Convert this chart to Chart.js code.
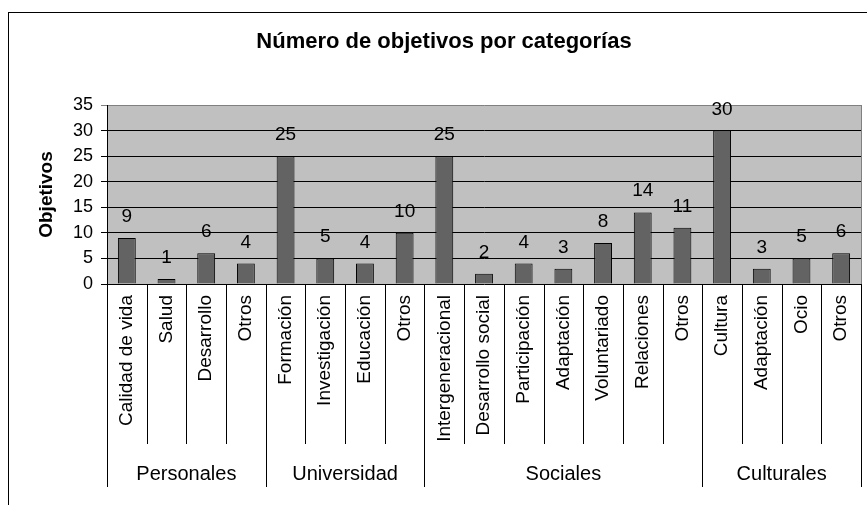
<!DOCTYPE html>
<html lang="es">
<head>
  <meta charset="UTF-8" />
  <title>Número de objetivos por categorías</title>
  <script src="https://cdn.jsdelivr.net/npm/chart.js"></script>
  <style>
    body {
      margin: 0;
      background: #ffffff;
    }

    .chart-box {
      position: relative;
      width: 867px;
      height: 505px;
    }
  </style>
</head>
<body>
  <div class="chart-box">
    <canvas id="objChart"></canvas>
  </div>

  <script>
    // data
    const categories = ['Calidad de vida', 'Salud', 'Desarrollo', 'Otros',
      'Formación', 'Investigación', 'Educación', 'Otros',
      'Intergeneracional', 'Desarrollo social', 'Participación', 'Adaptación', 'Voluntariado', 'Relaciones', 'Otros',
      'Cultura', 'Adaptación', 'Ocio', 'Otros'];
    const groups = ['Personales', 'Universidad', 'Sociales', 'Culturales'];
    const groupSizes = [4, 4, 7, 4];
    const objetivos = [9, 1, 6, 4, 25, 5, 4, 10, 25, 2, 4, 3, 8, 14, 11, 30, 3, 5, 6];
    const yMin = 0;
    const yMax = 35;
    const yStep = 5;

    const chartTitle = 'Número de objetivos por categorías';
    const yTitle = 'Objetivos';
    const fontFamily = "'Liberation Sans', Arial, sans-serif";

    const decor = {
      id: 'decor',
      beforeDraw(chart) {
        const { ctx, chartArea: a } = chart;
        ctx.save();
        ctx.fillStyle = '#ffffff';
        ctx.fillRect(0, 0, chart.width, chart.height);
        ctx.fillStyle = '#c0c0c0';
        ctx.fillRect(a.left, a.top, a.right - a.left, a.bottom - a.top);
        ctx.restore();
      },
      afterDraw(chart) {
        const { ctx, chartArea: a } = chart;
        const x = chart.scales.x;
        const y = chart.scales.y;
        ctx.save();

        // outer frame
        ctx.strokeStyle = '#000';
        ctx.lineWidth = 1;
        ctx.strokeRect(8.5, 12.5, 1000, 1000);

        // right border of plot
        ctx.strokeStyle = '#808080';
        ctx.beginPath();
        ctx.moveTo(Math.round(a.right) + 0.5, a.top);
        ctx.lineTo(Math.round(a.right) + 0.5, a.bottom);
        ctx.stroke();

        // title
        ctx.fillStyle = '#000';
        ctx.font = 'bold 22px ' + fontFamily;
        ctx.textAlign = 'center';
        ctx.textBaseline = 'alphabetic';
        ctx.fillText(chartTitle, 444, 48);

        // y axis title
        ctx.save();
        ctx.translate(47, (a.top + a.bottom) / 2);
        ctx.rotate(-Math.PI / 2);
        ctx.font = 'bold 19px ' + fontFamily;
        ctx.textBaseline = 'middle';
        ctx.fillText(yTitle, 0, 0);
        ctx.restore();

        // value labels
        ctx.font = '19px ' + fontFamily;
        ctx.textAlign = 'center';
        ctx.textBaseline = 'alphabetic';
        objetivos.forEach((v, i) => {
          ctx.fillText(String(v), x.getPixelForValue(i), y.getPixelForValue(v) - 16);
        });

        // category labels, rotated
        const labelTop = a.bottom + 11;
        categories.forEach((c, i) => {
          ctx.save();
          ctx.translate(x.getPixelForValue(i), labelTop);
          ctx.rotate(-Math.PI / 2);
          ctx.textAlign = 'right';
          ctx.textBaseline = 'middle';
          ctx.fillText(c, 0, 0);
          ctx.restore();
        });

        // separators
        const groupEdges = [0];
        groupSizes.forEach(s => groupEdges.push(groupEdges[groupEdges.length - 1] + s));
        ctx.strokeStyle = '#000';
        ctx.lineWidth = 1;
        for (let i = 0; i <= categories.length; i++) {
          const px = Math.round(x.getPixelForValue(i - 0.5)) + 0.5;
          const isGroup = groupEdges.includes(i);
          ctx.beginPath();
          ctx.moveTo(px, a.bottom);
          ctx.lineTo(px, isGroup ? a.bottom + 203 : a.bottom + 160);
          ctx.stroke();
        }

        // group labels
        ctx.font = '20px ' + fontFamily;
        ctx.textAlign = 'center';
        ctx.textBaseline = 'alphabetic';
        groups.forEach((g, k) => {
          const x0 = x.getPixelForValue(groupEdges[k] - 0.5);
          const x1 = x.getPixelForValue(groupEdges[k + 1] - 0.5);
          ctx.fillText(g, (x0 + x1) / 2, a.bottom + 196);
        });

        ctx.restore();
      }
    };

    new Chart(document.getElementById('objChart'), {
      type: 'bar',
      data: {
        labels: categories,
        datasets: [{
          label: yTitle,
          data: objetivos,
          backgroundColor: '#636363',
          borderColor: '#000000',
          borderWidth: 1,
          categoryPercentage: 1,
          barPercentage: 0.45
        }]
      },
      options: {
        responsive: true,
        maintainAspectRatio: false,
        animation: false,
        layout: {
          padding: { left: 0, right: 6, top: 105, bottom: 221 }
        },
        plugins: {
          legend: { display: false },
          title: { display: false },
          tooltip: { enabled: false }
        },
        scales: {
          x: {
            display: false
          },
          y: {
            min: yMin,
            max: yMax,
            afterFit(scale) {
              scale.width = 107;
            },
            ticks: {
              stepSize: yStep,
              padding: 8,
              color: '#000',
              font: { family: fontFamily, size: 18 }
            },
            grid: {
              color: ctx => (ctx.tick && ctx.tick.value === yMax ? '#808080' : '#000000'),
              tickLength: 6,
              lineWidth: 1
            },
            border: { display: true, color: '#000', width: 1 }
          }
        }
      },
      plugins: [decor]
    });
  </script>
</body>
</html>
